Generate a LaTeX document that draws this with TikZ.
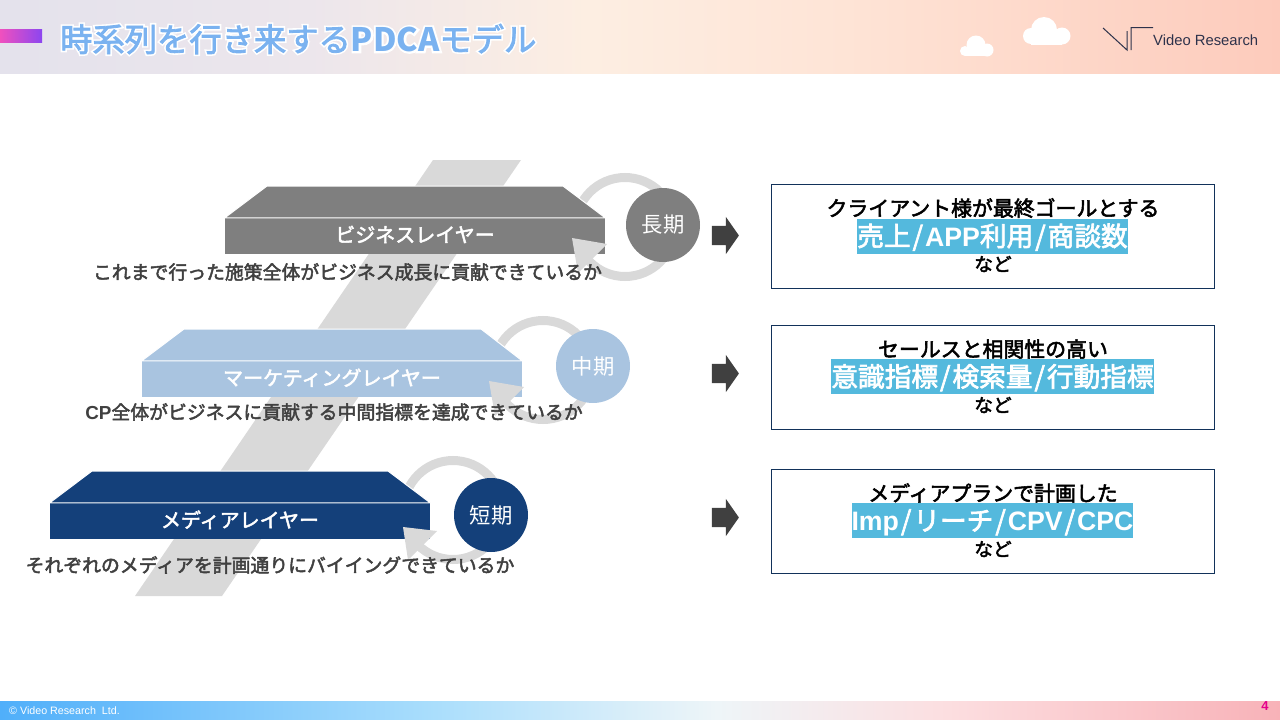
\documentclass[tikz,border=0pt]{standalone}
\usepackage{fontspec}
\setmainfont{Noto Sans CJK JP}
\newfontfamily\medfont{Noto Sans CJK JP}[FakeBold=2.5]
\newfontfamily\latinfont{Liberation Sans}
\usepackage{xcolor}
\usetikzlibrary{shapes.arrows}
\definecolor{bizgray}{RGB}{127,127,127}
\definecolor{mktblue}{RGB}{169,196,224}
\definecolor{medianavy}{RGB}{20,64,122}
\definecolor{bandgray}{RGB}{217,217,217}
\definecolor{textgray}{RGB}{64,64,64}
\definecolor{hlblue}{RGB}{84,185,221}
\definecolor{boxnavy}{RGB}{18,50,90}
\definecolor{titleblue}{RGB}{122,178,240}
\definecolor{logonavy}{RGB}{45,50,75}
\definecolor{pagepink}{RGB}{228,0,140}
\definecolor{heada}{RGB}{228,226,236}
\definecolor{headb}{RGB}{236,230,236}
\definecolor{headc}{RGB}{253,238,226}
\definecolor{headd}{RGB}{254,228,214}
\definecolor{heade}{RGB}{253,203,188}
\definecolor{foota}{RGB}{80,175,250}
\definecolor{footb}{RGB}{170,222,252}
\definecolor{footc}{RGB}{238,245,248}
\definecolor{footd}{RGB}{252,222,224}
\definecolor{foote}{RGB}{248,178,184}
\definecolor{accenta}{RGB}{240,80,190}
\definecolor{accentb}{RGB}{140,70,240}
\pgfdeclarehorizontalshading{headershade}{100bp}{
  color(0bp)=(heada); color(25bp)=(heada); color(37bp)=(headb); color(48bp)=(headc);
  color(58bp)=(headd); color(75bp)=(heade); color(100bp)=(heade)}
\pgfdeclarehorizontalshading{footershade}{100bp}{
  color(0bp)=(foota); color(25bp)=(foota); color(42bp)=(footb); color(53bp)=(footc);
  color(62bp)=(footd); color(75bp)=(foote); color(100bp)=(foote)}
\pgfdeclarehorizontalshading{accentshade}{100bp}{
  color(0bp)=(accenta); color(25bp)=(accenta); color(75bp)=(accentb); color(100bp)=(accentb)}
\newcommand{\lat}[1]{{\latinfont\bfseries #1}}
\newcommand{\sep}{\kern2pt/\kern2pt}

\begin{document}
\begin{tikzpicture}[
  x=1pt, y=-1pt,
  frontface/.style={rectangle, minimum width=380pt, minimum height=36pt, inner sep=0pt,
                    text=white, text depth=4pt, font=\medfont\fontsize{20}{24}\selectfont},
  topface/.style={draw=white, line width=1pt},
  desc/.style={inner sep=0pt, text=textgray, font=\medfont\fontsize{18.85}{22}\selectfont},
  ring/.style={circle, draw=bandgray, line width=9pt, minimum size=99pt, inner sep=0pt},
  term/.style={circle, minimum size=74pt, inner sep=0pt, text=white,
               font=\fontsize{21.33}{24}\selectfont},
  goalbox/.style={rectangle, draw=boxnavy, line width=1pt, fill=white, minimum width=443pt,
                  minimum height=104pt, inner sep=0pt},
  lead/.style={inner sep=0pt, text=black, font=\medfont\fontsize{20.9}{24}\selectfont},
  metric/.style={fill=hlblue, text=white, inner xsep=0pt, inner ysep=0pt, minimum height=35pt,
                 text height=20pt, text depth=0pt, font=\medfont\fontsize{26.67}{32}\selectfont},
  etc/.style={inner sep=0pt, text=black, font=\medfont\fontsize{18.67}{22}\selectfont},
  go/.style={single arrow, fill=textgray, minimum height=27pt, inner xsep=0pt, inner ysep=9.5pt,
             single arrow head extend=9pt, single arrow tip angle=110}
]
\useasboundingbox (0,0) rectangle (1280,720);
% header and footer
\shade[shading=headershade] (0,0) rectangle (1280,73);
\shade[shading=footershade] (0,701) rectangle (1280,720);
\shade[shading=accentshade] (0,29) rectangle (42,42);
\node[anchor=west, inner sep=0pt, font=\fontsize{32.3}{36}\selectfont] (title) at (60,39)
  {\rlap{\color{white}\special{pdf:code 1 1 1 RG 2 Tr 4 w}時系列を行き来する{\bfseries PDCA}モデル\special{pdf:code 0 Tr 0 0 0 RG}}\color{titleblue}\medfont 時系列を行き来する{\bfseries\rmfamily PDCA}モデル};
\fill[white] (976,45) circle (9.5);
\fill[white] (965,51) circle (5);
\fill[white] (987,50) circle (6.5);
\fill[white] (965,50) rectangle (987,56);
\fill[white] (1044,30) circle (13);
\fill[white] (1031,36) circle (8);
\fill[white] (1062,36) circle (8.5);
\fill[white] (1031,34) rectangle (1062,44.5);
\draw[logonavy, line width=1pt] (1103,28) -- (1127,50) -- (1127,31) (1131,50) -- (1131,27.5) -- (1153,27.5);
\node[anchor=west, inner sep=0pt, text=logonavy, font=\latinfont\fontsize{14.8}{18}\selectfont] (logo) at (1153,40) {Video Research};
\node[anchor=west, inner sep=0pt, text=white, font=\latinfont\fontsize{10.7}{12}\selectfont] (copy) at (9,711) {© Video Research\ \ Ltd.};
\node[inner sep=0pt, text=pagepink, font=\latinfont\fontsize{13}{15}\selectfont\bfseries] (page) at (1265,706) {4};
% diagonal band
\fill[bandgray] (433,160) -- (521,160) -- (222,596) -- (135,596) -- cycle;
% business layer
\node[ring] (bizring) at (625,227) {};
\node[frontface, fill=bizgray] (biz) at (415,236) {ビジネスレイヤー};
\filldraw[topface, fill=bizgray] (biz.north west) -- (267,186) -- (563,186) -- (biz.north east) -- cycle;
\fill[bandgray] (572,238) -- (607,244) -- (578,273) -- cycle;
\node[desc] (bizdesc) at (347.5,272) {これまで行った施策全体がビジネス成長に貢献できているか};
\node[term, fill=bizgray] (bizterm) at (663,225) {長期};
% marketing layer
\node[ring] (mktring) at (543,370) {};
\node[frontface, fill=mktblue] (mkt) at (332,379) {マーケティングレイヤー};
\filldraw[topface, fill=mktblue] (mkt.north west) -- (184,329) -- (481,329) -- (mkt.north east) -- cycle;
\fill[bandgray] (489,381) -- (524,387) -- (495,416) -- cycle;
\node[desc] (mktdesc) at (334,412) {\lat{CP}全体がビジネスに貢献する中間指標を達成できているか};
\node[term, fill=mktblue] (mktterm) at (593,366) {中期};
% media layer
\node[ring] (medring) at (453,510) {};
\node[frontface, fill=medianavy] (med) at (240,521) {メディアレイヤー};
\filldraw[topface, fill=medianavy] (med.north west) -- (92,471) -- (388,471) -- (med.north east) -- cycle;
\fill[bandgray] (403,527) -- (437,531) -- (408,560) -- cycle;
\node[desc] (meddesc) at (270,565) {それぞれのメディアを計画通りにバイイングできているか};
\node[term, fill=medianavy] (medterm) at (491,515) {短期};
% goals
\node[go] (bizgo) at (722,235.5) {};
\node[goalbox] (bizbox) at (992.5,236) {};
\node[lead] (bizlead) at (993,208) {クライアント様が最終ゴールとする};
\node[metric] (bizmetric) at (992.5,236) {売上\sep\lat{APP}利用\sep 商談数};
\node[etc] (bizetc) at (993,264) {など};
\node[go] (mktgo) at (722,373.5) {};
\node[goalbox] (mktbox) at (992.5,377) {};
\node[lead] (mktlead) at (993,349) {セールスと相関性の高い};
\node[metric] (mktmetric) at (992.5,376.5) {意識指標\sep 検索量\sep 行動指標};
\node[etc] (mktetc) at (993,405) {など};
\node[go] (medgo) at (722,517.5) {};
\node[goalbox] (medbox) at (992.5,521) {};
\node[lead] (medlead) at (993,493) {メディアプランで計画した};
\node[metric] (medmetric) at (992.5,520.5) {\lat{Imp}\sep リーチ\sep\lat{CPV}\sep\lat{CPC}};
\node[etc] (medetc) at (993,549) {など};
\end{tikzpicture}
\end{document}
